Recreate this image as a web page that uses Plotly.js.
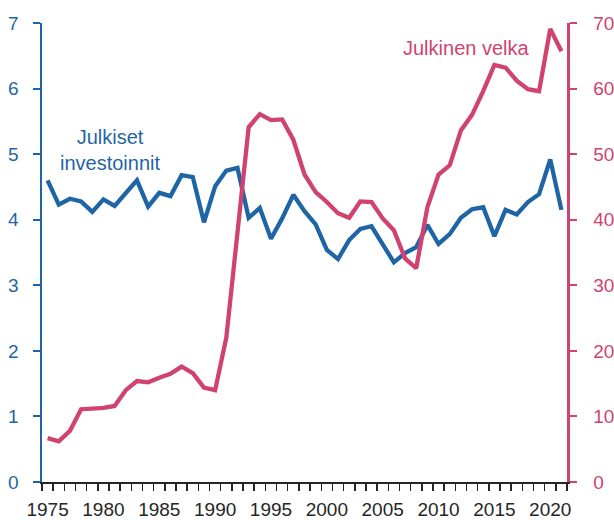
<!DOCTYPE html>
<html>
<head>
<meta charset="utf-8">
<script src="https://cdn.plot.ly/plotly-3.0.1.min.js"></script>
<style>html,body{margin:0;padding:0;background:#fff;}#chart{width:614px;height:520px;}</style>
</head>
<body>
<div id="chart"></div>
<script>
// Years
const years = [1975,1976,1977,1978,1979,1980,1981,1982,1983,1984,1985,1986,1987,1988,1989,1990,
  1991,1992,1993,1994,1995,1996,1997,1998,1999,2000,2001,2002,2003,2004,2005,2006,2007,2008,
  2009,2010,2011,2012,2013,2014,2015,2016,2017,2018,2019,2020,2021];
// Julkiset investoinnit (% BKT), left axis
const investoinnit = [4.60,4.23,4.32,4.28,4.12,4.31,4.21,4.41,4.60,4.20,4.41,4.36,4.68,4.65,3.96,4.51,
  4.75,4.79,4.03,4.18,3.71,4.02,4.38,4.13,3.93,3.54,3.40,3.69,3.86,3.90,3.61,3.35,3.49,3.58,
  3.92,3.63,3.78,4.03,4.16,4.19,3.75,4.15,4.08,4.27,4.39,4.92,4.15];
// Julkinen velka (% BKT), right axis
const velka = [6.7,6.2,7.8,11.1,11.2,11.3,11.6,14.0,15.4,15.2,15.9,16.5,17.6,16.6,14.4,14.0,
  22.0,38.0,54.1,56.1,55.2,55.3,52.2,46.9,44.2,42.7,41.0,40.3,42.8,42.7,40.2,38.4,34.1,32.6,
  41.9,46.9,48.3,53.6,56.0,59.6,63.6,63.2,61.2,59.9,59.6,69.1,65.7];
const xTickLabels = ['1975','1980','1985','1990','1995','2000','2005','2010','2015','2020'];
const xTickVals = xTickLabels.map(Number);

const BLUE = '#1f65a6';
const PINK = '#d0436f';
const FONT = 'Liberation Sans, Arial, sans-serif';

const boundaries = [];
for (let i = 0; i <= years.length; i++) boundaries.push(years[0] - 0.5 + i);

const traces = [
  {x: years, y: investoinnit, type: 'scatter', mode: 'lines', name: 'Julkiset investoinnit',
   line: {color: BLUE, width: 4.3}, yaxis: 'y', hoverinfo: 'skip'},
  {x: years, y: velka, type: 'scatter', mode: 'lines', name: 'Julkinen velka',
   line: {color: PINK, width: 4.3}, yaxis: 'y2', hoverinfo: 'skip'}
];

const layout = {
  width: 614, height: 520,
  margin: {l: 42, r: 47, t: 23, b: 38, pad: 0},
  paper_bgcolor: '#ffffff', plot_bgcolor: '#ffffff',
  showlegend: false,
  font: {family: FONT, size: 19, color: '#262626'},
  xaxis: {
    range: [years[0] - 0.5, years[years.length - 1] + 0.5],
    tickmode: 'array', tickvals: xTickVals, ticktext: xTickLabels,
    ticks: 'outside', ticklen: 0, tickcolor: 'rgba(0,0,0,0)',
    minor: {tickmode: 'array', tickvals: boundaries, ticks: 'outside', ticklen: 7, tickwidth: 1.5, tickcolor: '#262626'},
    showgrid: false, zeroline: false,
    showline: true, linecolor: '#262626', linewidth: 1.5,
    tickfont: {family: FONT, size: 19, color: '#262626'},
    ticklabelstandoff: 10,
    fixedrange: true
  },
  yaxis: {
    range: [0, 7], tickmode: 'linear', tick0: 0, dtick: 1,
    ticks: 'outside', ticklen: 7, tickwidth: 2, tickcolor: BLUE,
    showline: true, linecolor: BLUE, linewidth: 2.5,
    showgrid: false, zeroline: false,
    tickfont: {family: FONT, size: 19, color: BLUE},
    ticklabelstandoff: 10
  },
  yaxis2: {
    range: [0, 70], tickmode: 'linear', tick0: 0, dtick: 10,
    overlaying: 'y', side: 'right',
    ticks: 'outside', ticklen: 7, tickwidth: 2, tickcolor: PINK,
    showline: true, linecolor: PINK, linewidth: 2.5,
    showgrid: false, zeroline: false,
    tickfont: {family: FONT, size: 19, color: PINK},
    ticklabelstandoff: 13
  },
  annotations: [
    {x: 1980.6, y: 5.06, xref: 'x', yref: 'y', text: 'Julkiset<br>investoinnit', showarrow: false,
     font: {family: FONT, size: 20, color: BLUE}, align: 'center'},
    {x: 2012.5, y: 6.62, xref: 'x', yref: 'y', text: 'Julkinen velka', showarrow: false,
     font: {family: FONT, size: 20, color: PINK}, align: 'center'}
  ]
};

Plotly.newPlot('chart', traces, layout, {staticPlot: true, displayModeBar: false});
</script>
</body>
</html>
